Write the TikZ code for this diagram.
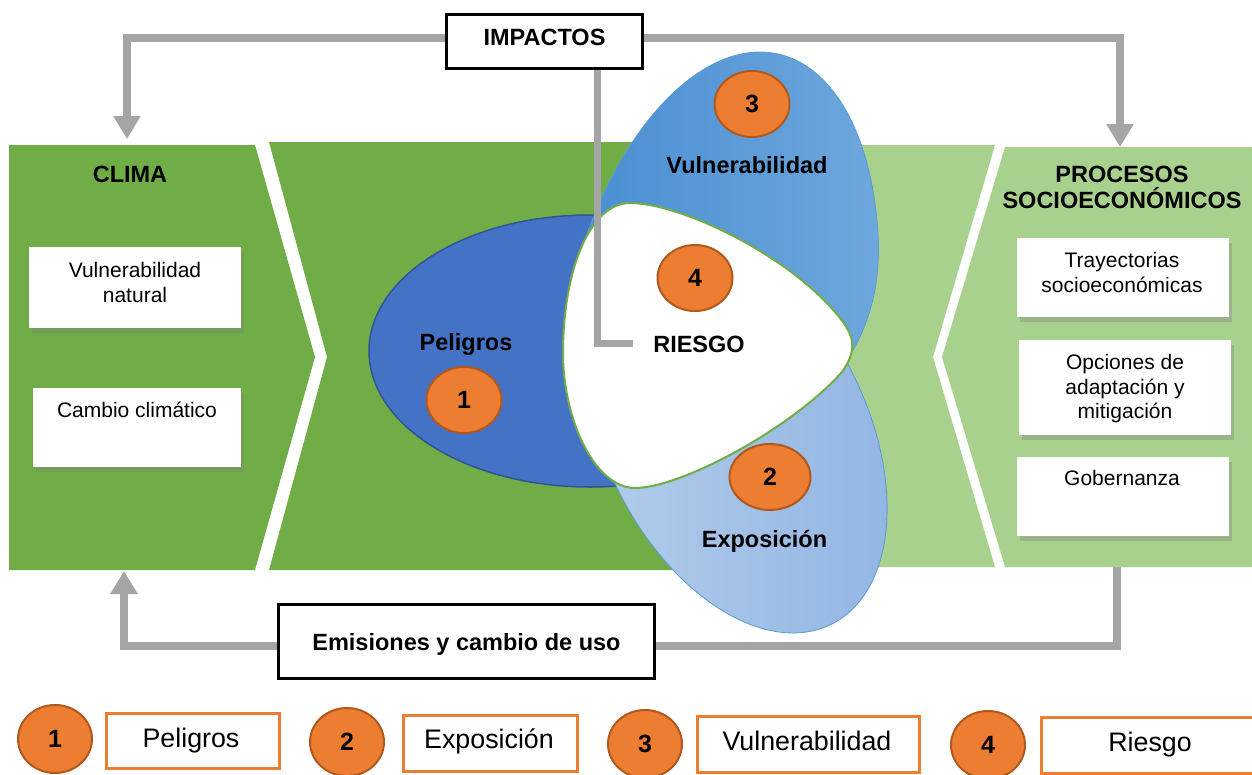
\documentclass[tikz,border=0pt]{standalone}
\usepackage{fontspec}
\setmainfont{Liberation Sans}
\usetikzlibrary{arrows.meta,shapes.geometric,shadows}
\definecolor{gmed}{HTML}{70AD47}
\definecolor{glight}{HTML}{A9D18E}
\definecolor{grayline}{HTML}{A5A5A5}
\definecolor{orng}{HTML}{ED7D31}
\definecolor{orngd}{HTML}{B0591F}
\definecolor{blued}{HTML}{4472C4}
\definecolor{bluedd}{HTML}{2F5597}
\definecolor{bvA}{HTML}{4A8ED2}
\definecolor{bvB}{HTML}{6EA7DD}
\definecolor{beA}{HTML}{B3CDEB}
\definecolor{beB}{HTML}{93B6E3}
\definecolor{bline}{HTML}{5B9BD5}
\newcommand\lblfont{\fontsize{23.5}{27}\selectfont\bfseries}
\newcommand\txtfont{\fontsize{21}{24.5}\selectfont}
\newcommand\legfont{\fontsize{26.8}{30}\selectfont}
\newcommand\numfont{\fontsize{25}{28}\selectfont\bfseries}
\begin{document}
\begin{tikzpicture}[x=1pt,y=-1pt,
  wbox/.style={fill=white, draw=none, drop shadow={shadow xshift=3pt,shadow yshift=-5pt,opacity=0.35}, inner sep=0, anchor=north west},
  lbl/.style={font=\lblfont, inner sep=0, anchor=base},
  txt/.style={font=\txtfont, inner sep=0, anchor=base},
  leg/.style={font=\legfont, inner sep=0, anchor=base},
  ocirc/.style={ellipse, fill=orng, draw=orngd, line width=2pt, minimum width=75pt, minimum height=66pt, inner sep=0, font=\numfont},
  legbox/.style={draw=orng, line width=3pt, fill=white, inner sep=0, anchor=north west},
  kbox/.style={draw=black, line width=2.5pt, fill=white, inner sep=0},
  gline/.style={draw=grayline, line width=8pt},
  garrow/.style={gline, -{Triangle[width=26pt,length=23pt]}}]
\useasboundingbox (0,0) rectangle (1252,774);
\fill[white] (0,0) rectangle (1252,774);

% panels
\fill[gmed] (9,145) -- (255,145) -- (315,357) -- (255,570) -- (9,570) -- cycle;
\fill[gmed] (269,142) -- (790,142) -- (790,570) -- (269,570) -- (327,357) -- cycle;
\fill[glight] (780,145) -- (995,145) -- (933,357) -- (995,567) -- (780,567) -- cycle;
\fill[glight] (1005,147) -- (1252,147) -- (1252,567) -- (1005,567) -- (942,357) -- cycle;

% venn petals
\draw[bluedd, line width=1.5pt, fill=blued] (590,351) ellipse [x radius=221pt, y radius=136pt];
\draw[bline, line width=0.8pt, left color=bvA, right color=bvB]
  (700,350) -- plot[domain=-72:70, samples=80] ({717+43*cos(\x)+156*sin(\x)},{336-284*cos(\x)})
  .. controls (880,290) and (868,330) .. (843,366) -- cycle;
\draw[bline, line width=0.8pt, left color=beA, right color=beB]
  plot[domain=0:360, samples=121] ({736+57*cos(\x)+140*sin(\x)},{433+200*cos(\x)}) -- cycle;
\draw[gmed, line width=2pt, fill=white] (563,353) .. controls (563,270) and (590,203) .. (630,203)
  .. controls (680,203) and (790,255) .. (840,318)
  .. controls (856,338) and (856,352) .. (842,372)
  .. controls (790,430) and (680,488) .. (635,488)
  .. controls (595,488) and (563,420) .. cycle;

% labels in venn
\node[lbl] (vulnlbl) at (747,173) {Vulnerabilidad};
\node[lbl] (pellbl) at (466,350) {Peligros};
\node[lbl] (riesgo) at (699,352) {RIESGO};
\node[lbl] (expolbl) at (764.5,547) {Exposición};
\node[ocirc] (c3) at (752,104) {3};
\node[ocirc] (c4) at (695,278) {4};
\node[ocirc] (c1) at (464,400) {1};
\node[ocirc, minimum width=81pt] (c2) at (770,477) {2};

% panel titles
\node[lbl] (climalbl) at (130,182) {CLIMA};
\node[lbl] (proclbl) at (1122,182) {PROCESOS};
\node[lbl] (proclbl2) at (1122,208) {SOCIOECONÓMICOS};

% white boxes
\node[wbox, minimum width=212pt, minimum height=81pt] (vn) at (29,247) {};
\node[txt] at (135,277) {Vulnerabilidad};
\node[txt] at (135,302) {natural};
\node[wbox, minimum width=208pt, minimum height=79pt] (cc) at (33,388) {};
\node[txt] at (137,417) {Cambio climático};
\node[wbox, minimum width=212pt, minimum height=79pt] (tray) at (1017,238) {};
\node[txt] at (1122,267) {Trayectorias};
\node[txt] at (1122,292) {socioeconómicas};
\node[wbox, minimum width=212pt, minimum height=95pt] (opc) at (1019,340) {};
\node[txt] at (1125,369) {Opciones de};
\node[txt] at (1125,394) {adaptación y};
\node[txt] at (1125,418) {mitigación};
\node[wbox, minimum width=212pt, minimum height=79pt] (gob) at (1017,457) {};
\node[txt] at (1122,485) {Gobernanza};

% top and bottom black boxes
\node[kbox, minimum width=196pt, minimum height=54pt] (imp) at (544.5,41.5) {};
\node[lbl] at (544.5,45) {IMPACTOS};
\node[kbox, minimum width=376pt, minimum height=74pt] (emis) at (466.5,641.5) {};
\node[lbl] at (466.5,650) {Emisiones y cambio de uso};

% connectors
\coordinate (climaIn) at (127,139);
\coordinate (procIn) at (1120,147);
\coordinate (procOut) at (1117,567);
\coordinate (climaOut) at (124,571);
\draw[garrow] ([yshift=3.5pt]imp.west) -| (climaIn);
\draw[garrow] ([yshift=3.5pt]imp.east) -| (procIn);
\draw[gline, line width=7pt] ([xshift=52.5pt]imp.south) |- ([xshift=-20pt]riesgo.west);
\draw[gline] (procOut) |- ([yshift=-4.5pt]emis.east);
\draw[garrow] ([yshift=-4.5pt]emis.west) -| (climaOut);

% legend
\node[ocirc, minimum width=74pt, minimum height=68pt] (l1) at (55,739) {1};
\node[legbox, minimum width=173pt, minimum height=55pt] (lb1) at (105,712) {};
\node[leg] at (191,747) {Peligros};
\node[ocirc, minimum width=74pt, minimum height=68pt] (l2) at (347,742) {2};
\node[legbox, minimum width=174pt, minimum height=56pt] (lb2) at (402,714) {};
\node[leg] at (489,748) {Exposición};
\node[ocirc, minimum width=74pt, minimum height=68pt] (l3) at (645,744) {3};
\node[legbox, minimum width=222pt, minimum height=56pt] (lb3) at (696,715) {};
\node[leg] at (807,750) {Vulnerabilidad};
\node[ocirc, minimum width=74pt, minimum height=68pt] (l4) at (988,745) {4};
\node[legbox, minimum width=220pt, minimum height=56pt] (lb4) at (1040,716) {};
\node[leg] at (1150,751) {Riesgo};
\end{tikzpicture}
\end{document}
